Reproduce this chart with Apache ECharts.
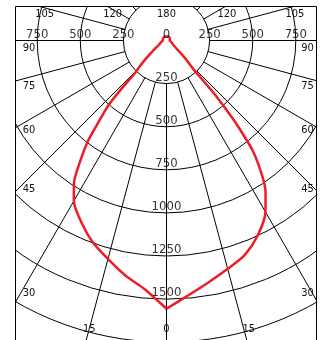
<!DOCTYPE html>
<html>
<head>
<meta charset="utf-8">
<script src="https://cdn.jsdelivr.net/npm/echarts@6/dist/echarts.min.js"></script>
<style>
  html, body { margin: 0; padding: 0; background: #fff; }
  #chart { width: 325px; height: 340px; }
</style>
</head>
<body>
<div id="chart"></div>
<script>
// gamma angle from nadir (deg) and luminous intensity (cd)
var gammaAngles = [0, 5, 10, 15, 20, 25, 30, 33, 35, 38, 40, 41, 42, 43, 44, 46, 48, 50, 55, 60, 70, 80, 90, 120, 150, 180];
var c0Values    = [1556, 1482, 1422, 1371, 1325, 1250, 1148, 1055, 975, 815, 628, 513, 400, 235, 200, 160, 115, 85, 55, 42, 32, 24, 19, 23, 25, 25]; // right half
var c180Values  = [1556, 1448, 1383, 1312, 1247, 1166, 1075, 985, 890, 740, 605, 550, 494, 380, 270, 215, 172, 130, 78, 52, 36, 27, 22, 23, 25, 25]; // left half
var radiusTicks = [250, 500, 750, 1000, 1250, 1500];
var crossTicks  = [0, 250, 500, 750];
var angleLabels = [0, 15, 30, 45, 60, 75, 90, 105, 120, 180];

var cx = 166.5, cy = 40.5;
var pxPer250 = 43.1;
var maxCd = 2500;
var outerR = maxCd / 250 * pxPer250;
var frame = { l: 15.5, t: 6.5, r: 316.5, b: 345 };
var font = '"DejaVu Sans Condensed", "DejaVu Sans", sans-serif';

function toPolar(vals, mirror) {
  return gammaAngles.map(function (a, i) {
    return [vals[i], mirror ? 360 - a : a];
  });
}

// angle label sits where its ray meets the frame
function anglePos(a, side) {
  var rad = a * Math.PI / 180;
  var dx = side * Math.sin(rad), dy = Math.cos(rad);
  if (a === 0) return [cx, 329];
  if (a === 180) return [cx, 14];
  var tSide = (side < 0 ? cx - frame.l : frame.r - cx) / Math.abs(dx);
  var tVert = dy < 0 ? (cy - frame.t) / -dy : (dy > 0 ? (frame.b - cy) / dy : Infinity);
  if (tSide <= tVert) {
    return [side < 0 ? 29 : 307.5, cy + 141 * dy / Math.abs(dx) + 8];
  }
  if (dy < 0) {
    return [cx + dx * tVert + (side < 0 ? 5 : 1.5), 14];
  }
  return [cx + dx * (329 - cy) / dy + (side < 0 ? 0 : 5), 329];
}

var graphics = [
  // white margins clip the grid to the frame
  { type: 'rect', z: 100, shape: { x: 0, y: 0, width: 325, height: frame.t }, style: { fill: '#fff' } },
  { type: 'rect', z: 100, shape: { x: 0, y: 0, width: frame.l, height: 340 }, style: { fill: '#fff' } },
  { type: 'rect', z: 100, shape: { x: frame.r, y: 0, width: 325 - frame.r, height: 340 }, style: { fill: '#fff' } },
  { type: 'rect', z: 101, shape: { x: frame.l, y: frame.t, width: frame.r - frame.l, height: frame.b - frame.t },
    style: { fill: 'none', stroke: '#000', lineWidth: 1 } }
];
angleLabels.forEach(function (a) {
  var sides = (a === 0 || a === 180) ? [0] : [-1, 1];
  sides.forEach(function (s) {
    var p = anglePos(a, s);
    graphics.push({
      type: 'text', z: 102, x: p[0], y: p[1],
      style: { text: String(a), align: 'center', verticalAlign: 'middle', fill: '#111', font: '11px ' + font }
    });
  });
});

var tickLabel = {
  show: true, position: 'top', distance: -1, color: '#000', fontSize: 13, fontFamily: font,
  formatter: function (p) { return p.value[0]; }
};

var chart = echarts.init(document.getElementById('chart'));
chart.setOption({
  animation: false,
  backgroundColor: '#fff',
  polar: [
    { center: [cx, cy], radius: [0, outerR] },
    { center: [cx, cy], radius: [pxPer250, outerR] }   // rays start at the 250 circle
  ],
  radiusAxis: [
    {
      polarIndex: 0, type: 'value', min: 0, max: maxCd, interval: 250,
      axisLine: { show: false }, axisTick: { show: false }, axisLabel: { show: false },
      splitLine: { show: true, lineStyle: { color: '#000', width: 1 } }
    },
    { polarIndex: 1, type: 'value', min: 0, max: maxCd, show: false }
  ],
  angleAxis: [
    {
      polarIndex: 0, type: 'value', min: 0, max: 360, startAngle: 270,
      axisLine: { show: false }, axisTick: { show: false }, axisLabel: { show: false },
      splitLine: { show: false }
    },
    {
      polarIndex: 1, type: 'value', min: 0, max: 360, interval: 15, startAngle: 270,
      axisLine: { show: false }, axisTick: { show: false }, axisLabel: { show: false },
      splitLine: { show: true, lineStyle: { color: '#000', width: 1 } }
    }
  ],
  series: [
    {
      type: 'line', coordinateSystem: 'polar', polarIndex: 0, name: 'C0',
      data: toPolar(c0Values, true), smooth: 0.25, showSymbol: false,
      lineStyle: { color: '#ee1c24', width: 2.5 }, z: 10
    },
    {
      type: 'line', coordinateSystem: 'polar', polarIndex: 0, name: 'C180',
      data: toPolar(c180Values, false), smooth: 0.25, showSymbol: false,
      lineStyle: { color: '#ee1c24', width: 2.5 }, z: 10
    },
    {
      type: 'scatter', coordinateSystem: 'polar', polarIndex: 0, silent: true,
      symbolSize: 1, itemStyle: { color: 'rgba(0,0,0,0)' }, label: tickLabel, z: 20,
      data: radiusTicks.map(function (v) { return [v, 0]; })
        .concat(crossTicks.map(function (v) { return [v, 90]; }))
        .concat(crossTicks.filter(function (v) { return v > 0; }).map(function (v) { return [v, 270]; }))
    }
  ],
  graphic: graphics
});
</script>
</body>
</html>
